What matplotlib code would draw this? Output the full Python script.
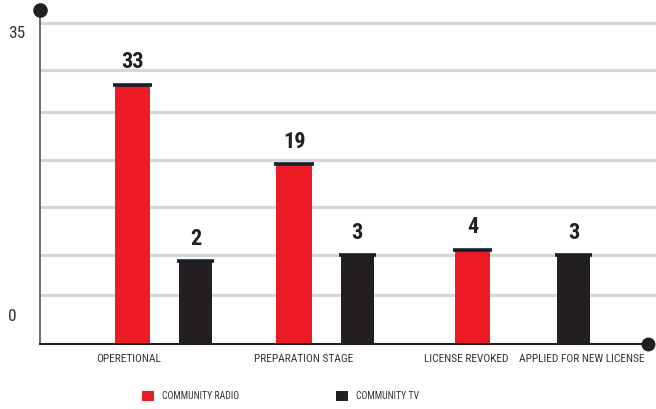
import matplotlib
matplotlib.use('Agg')
import matplotlib.pyplot as plt

categories = ['OPERETIONAL', 'PREPARATION STAGE', 'LICENSE REVOKED', 'APPLIED FOR NEW LICENSE']
radio_values = [33, 19, 4, None]
tv_values = [2, 3, None, 3]
series_names = ['COMMUNITY RADIO', 'COMMUNITY TV']
y_tick_labels = ['0', '35']

RED = '#ed1c24'
DARK = '#231f20'
CAP = '#16202b'
GRID = '#d6d6d6'

plt.rcParams['font.family'] = ['Roboto Condensed', 'DejaVu Sans']
plt.rcParams['font.stretch'] = 'condensed'

fig = plt.figure(figsize=(6.56, 4.09), dpi=100)
ax = fig.add_axes([40 / 656, 65 / 409, 616 / 656, 334 / 409])

# the infographic's bars do not start at zero, the baseline sits well below it
base = -12.6
ax.set_ylim(base, 46.1)
ax.set_xlim(-0.77, 3.056)

group_x = [0, 1.005, 1.916, 2.543]
label_x = [-0.217, 0.866, 1.876, 2.596]
offset = 0.196
widths = [0.222, 0.205]

grid_levels = [-4.0, 3.1, 11.5, 19.8, 28.2, 35.6, 43.9]
for g in grid_levels:
    ax.axhline(g, color=GRID, lw=2.3, zorder=0)

handles = []
for s, (vals, color, w) in enumerate(zip([radio_values, tv_values], [RED, DARK], widths)):
    xs, hs = [], []
    for i, v in enumerate(vals):
        if v is None:
            continue
        other = tv_values[i] if s == 0 else radio_values[i]
        if other is None:
            x = group_x[i]
        else:
            x = group_x[i] + (offset if s == 1 else -offset)
        xs.append(x)
        hs.append(v)
    bars = ax.bar(xs, [h - base for h in hs], bottom=base, width=w, color=color,
                  label=series_names[s], zorder=2)
    handles.append(bars)
    for x, h in zip(xs, hs):
        ax.hlines(h, x - w / 2 - 0.012, x + w / 2 + 0.012, color=CAP, lw=2.6, zorder=3)
        ax.annotate(str(h), (x, h), xytext=(0, 8), textcoords='offset points',
                    ha='center', va='bottom', fontsize=16, fontweight='bold', color='#231f20')

for sp in ax.spines.values():
    sp.set_visible(False)

# axis lines with round end dots
ax.plot([0, 0], [0, 1], transform=ax.transAxes, color='#6a6a6a', lw=1.4, clip_on=False, zorder=4)
ax.plot([0], [1], 'o', transform=ax.transAxes, color='#231f20', ms=9.5, clip_on=False, zorder=5)
ax.plot([0, 608 / 616], [0, 0], transform=ax.transAxes, color='#231f20', lw=1.5, clip_on=False, zorder=4)
ax.plot([608 / 616], [0], 'o', transform=ax.transAxes, color='#231f20', ms=9, clip_on=False, zorder=5)

ax.set_yticks([])
ax.text(-0.052, 0.081, y_tick_labels[0], transform=ax.transAxes, ha='left', va='center',
        fontsize=12.5, color='#333333')
ax.text(-0.052, 0.931, y_tick_labels[1], transform=ax.transAxes, ha='left', va='center',
        fontsize=12.5, color='#333333')

ax.set_xticks(label_x, categories)
ax.tick_params(axis='x', length=0, pad=7, labelsize=8.2, labelcolor='#333333')

fig.legend(handles, series_names, loc='center left', bbox_to_anchor=(142 / 656, 1 - 396 / 409),
           ncol=2, frameon=False, fontsize=7, handlelength=1.23, handleheight=1.23,
           handletextpad=0.8, columnspacing=10.0, borderpad=0, borderaxespad=0,
           labelcolor='#333333')

fig.savefig('out.png', dpi=100)
